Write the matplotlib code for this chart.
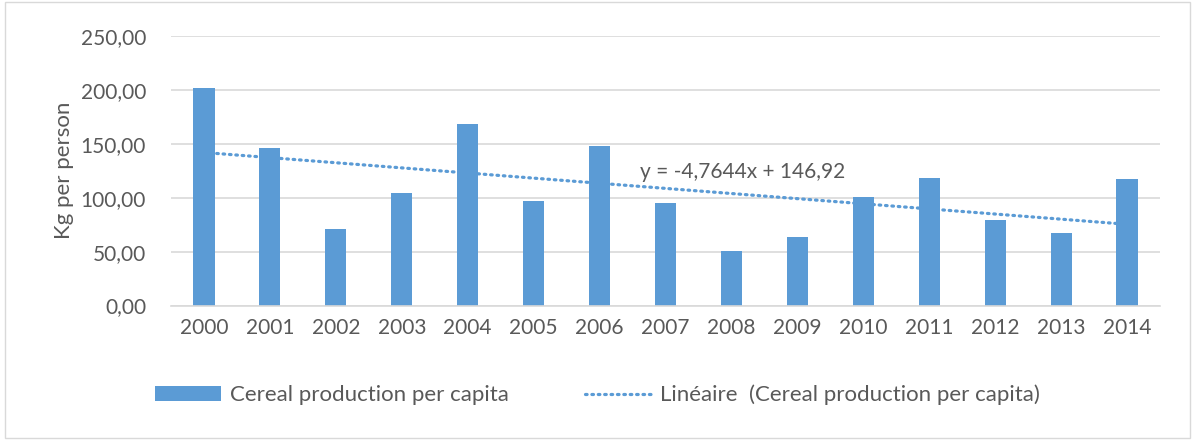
import numpy as np
import matplotlib.pyplot as plt
from matplotlib.patches import Rectangle

years = ["2000", "2001", "2002", "2003", "2004", "2005", "2006", "2007",
         "2008", "2009", "2010", "2011", "2012", "2013", "2014"]
kg_per_person = [201.3, 146.2, 71.4, 104.2, 168.2, 96.8, 148.4, 95.5,
                 51.0, 64.0, 100.2, 118.7, 79.4, 67.1, 117.2]
y_ticks = [0, 50, 100, 150, 200, 250]
equation = "y = -4,7644x + 146,92"

bar_color = "#5B9BD5"
text_color = "#595959"
plt.rcParams['font.family'] = ['Lato', 'DejaVu Sans']

fig = plt.figure(figsize=(11.95, 4.4), dpi=100)
fig.patches.append(Rectangle((0.004, 0.005), 0.992, 0.99, transform=fig.transFigure,
                             fill=False, edgecolor="#D9D9D9", linewidth=1))
ax = fig.add_axes([171 / 1195, 1 - 305.5 / 440, (1160 - 171) / 1195, (305.5 - 36) / 440])

x = np.arange(len(years))
bars = ax.bar(x, kg_per_person, width=0.32, color=bar_color, zorder=2,
              label="Cereal production per capita")

# linear trend (Excel style, x = 1..n)
slope, intercept = np.polyfit(x + 1, kg_per_person, 1)
trend, = ax.plot(x, slope * (x + 1) + intercept, color=bar_color, linewidth=2.3,
                 linestyle=(0, (0.5, 1.5)), dash_capstyle="round", zorder=3,
                 label="Linéaire  (Cereal production per capita)")
ax.text(6.62, 124, equation, fontsize=15, color=text_color, va="center", ha="left")

ax.set_xlim(-0.5, len(years) - 0.5)
ax.set_ylim(0, 250)
ax.set_xticks(x)
ax.set_xticklabels(years)
ax.set_yticks(y_ticks)
ax.set_yticklabels([f"{v:.2f}".replace(".", ",") for v in y_ticks])
ax.yaxis.grid(True, color="#D9D9D9", linewidth=1.2, zorder=0)
ax.set_axisbelow(True)
for s in ["top", "right", "left"]:
    ax.spines[s].set_visible(False)
ax.spines["bottom"].set_color("#D9D9D9")
ax.spines["bottom"].set_linewidth(1.2)
ax.tick_params(axis="both", length=0, labelsize=15, labelcolor=text_color)
ax.tick_params(axis="x", pad=9)
ax.tick_params(axis="y", pad=18)
ax.set_ylabel("Kg per person", fontsize=16, color=text_color, labelpad=5)

fig.legend(handles=[bars, trend], loc="center", bbox_to_anchor=(0.5, 1 - 395 / 440), ncol=2,
           frameon=False, fontsize=16, labelcolor=text_color, handlelength=3.0,
           handleheight=0.6, columnspacing=3.4, handletextpad=0.4)

fig.savefig("out.png", dpi=100)
